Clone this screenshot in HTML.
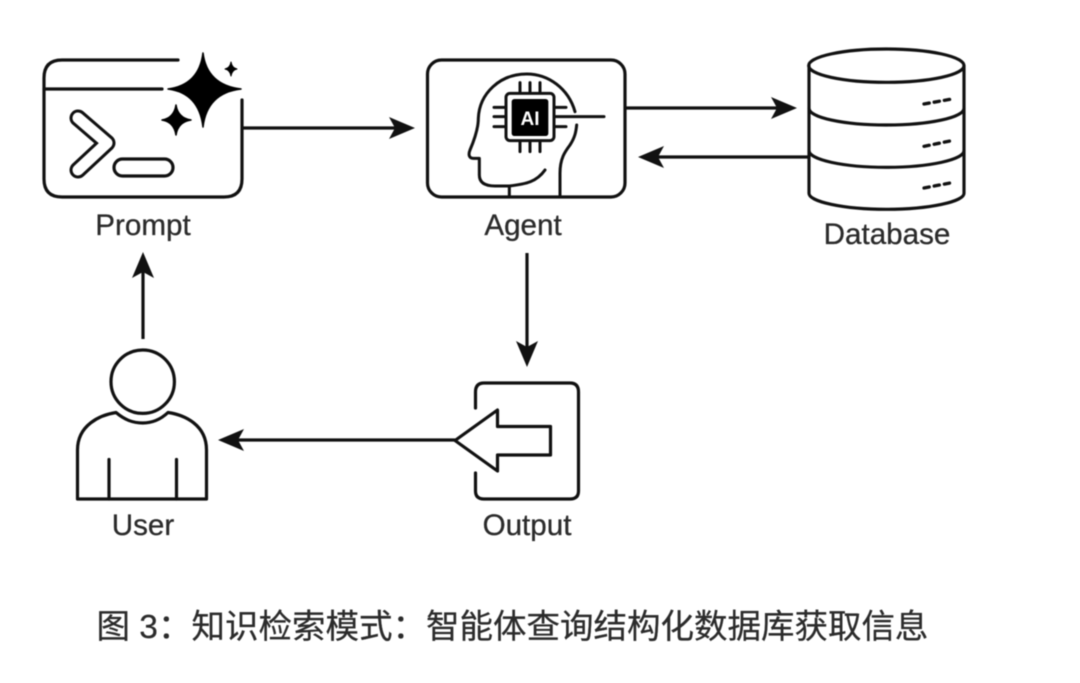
<!DOCTYPE html>
<html><head><meta charset="utf-8">
<style>
html,body{margin:0;padding:0;background:#fff;width:1080px;height:683px;overflow:hidden}
svg{display:block}
.l{font-family:"Liberation Sans",sans-serif;font-size:29.6px;fill:#2b2b2b;stroke:#2b2b2b;stroke-width:.3px;text-anchor:middle}
.c{font-family:"Liberation Sans","Noto Sans CJK SC",sans-serif;font-size:33.5px;fill:#2b2b2b;stroke:#2b2b2b;stroke-width:.25px}
</style></head><body>
<svg width="1080" height="683" viewBox="0 0 1080 683" xmlns="http://www.w3.org/2000/svg">
<g style="filter:blur(0.6px)" fill="none" stroke="#111" stroke-width="3.2" stroke-linecap="round" stroke-linejoin="round">

<!-- Prompt -->
<path d="M178 60H62Q44 60 44 78V179Q44 197 62 197H224Q242 197 242 179V100"/>
<path d="M44 89H162"/>
<path d="M203 53Q207 85 241 89Q207 93 203 127Q199 93 168 89Q199 85 203 53Z" fill="#000" stroke="#000" stroke-width="1.500"/>
<path d="M176 105Q178 118 191 120Q178 122 176 135Q174 122 162 120Q174 118 176 105Z" fill="#000" stroke="#000" stroke-width="1.500"/>
<path d="M231 62Q232 68 237 69Q232 70 231 76Q230 70 225 69Q230 68 231 62Z" fill="#000" stroke="#000" stroke-width="1"/>
<path d="M78 118L107 143L78 170" stroke="#111" stroke-width="17"/>
<path d="M78 118L107 143L78 170" stroke="#fff" stroke-width="11"/>
<rect x="114" y="159" width="59" height="17" rx="8.5"/>

<!-- Agent -->
<rect x="427.500" y="60" width="197.500" height="137" rx="14"/>
<g transform="translate(420 50) scale(.33333)" stroke-width="9">
<path d="M420 440V370C420 325 435 305 450 285C465 262 468 245 470 225"/>
<path d="M465 185C445 115 385 72 320 72C240 72 178 130 175 205C175 235 165 265 150 300C144 315 148 325 160 325H178V375C178 398 195 408 225 408H268C320 402 350 395 375 360"/>
<path d="M268 408V440"/>
<path d="M300 98V130M330 98V130M360 98V130M300 272V305M330 272V305M360 272V305M222 172H258M222 200H258M222 230H258M402 172H438M402 230H438M402 200H552"/>
<rect x="258" y="130" width="144" height="142" rx="12" fill="#fff"/>
<rect x="275" y="147" width="110" height="111" rx="8" fill="#000" stroke="none"/>
</g>
<text x="530" y="125" style="font-family:'Liberation Sans',sans-serif;font-size:19px;font-weight:bold;text-anchor:middle;fill:#fff;stroke:none">AI</text>

<!-- Database -->
<g transform="translate(790 40) scale(.33333)" stroke-width="9.500">
<ellipse cx="289" cy="77" rx="233" ry="50"/>
<path d="M57 77V460C57 485 160 508 289 508S522 485 522 460V77"/>
<path d="M57 205C57 232 160 255 289 255S522 232 522 205"/>
<path d="M57 332C57 359 160 382 289 382S522 359 522 332"/>
<path d="M402 192L480 178M402 319L480 303M402 444L480 429" stroke-width="10" stroke-dasharray="16 15"/>
</g>

<!-- User -->
<circle cx="142.700" cy="381.700" r="31.700"/>
<path d="M77.500 499V450C77.500 425 100 415 116 412.500C125 420 133 423 142.700 423C152 423 160 420 168 412.500C185 415 206.500 425 206.500 450V499Z"/>
<path d="M109 459.500V499M176.500 459.500V499"/>

<!-- Output -->
<path d="M475.500 408V392Q475.500 383 484 383H570Q578.500 383 578.500 392V491Q578.500 499 570 499H484Q475.500 499 475.500 491V473"/>
<path d="M455 440.500L497.500 410V426.500H550.500V455H497.500V471Z"/>

<!-- Connectors -->
<g stroke-linecap="butt">
<path d="M242 128H398"/>
<path d="M625 108H780"/>
<path d="M808 157H655"/>
<path d="M527 253V350"/>
<path d="M455 440H235"/>
<path d="M143 339V268"/>
</g>
<g fill="#111" stroke="none">
<path d="M415 128L389 117L395 128L389 139Z"/>
<path d="M797 108L771 97L777 108L771 119Z"/>
<path d="M638 157L664 146L658 157L664 168Z"/>
<path d="M527 367L516 341L527 347L538 341Z"/>
<path d="M218 440L244 429L238 440L244 451Z"/>
<path d="M143 252L132 278L143 272L154 278Z"/>
</g>

<!-- Labels -->
<text class="l" x="143" y="235">Prompt</text>
<text class="l" x="523" y="235">Agent</text>
<text class="l" x="887" y="244">Database</text>
<text class="l" x="143" y="535">User</text>
<text class="l" x="527" y="535">Output</text>
<text class="c" x="96.500" y="638">图 3：知识检索模式：智能体查询结构化数据库获取信息</text>
</g>
</svg>
</body></html>
